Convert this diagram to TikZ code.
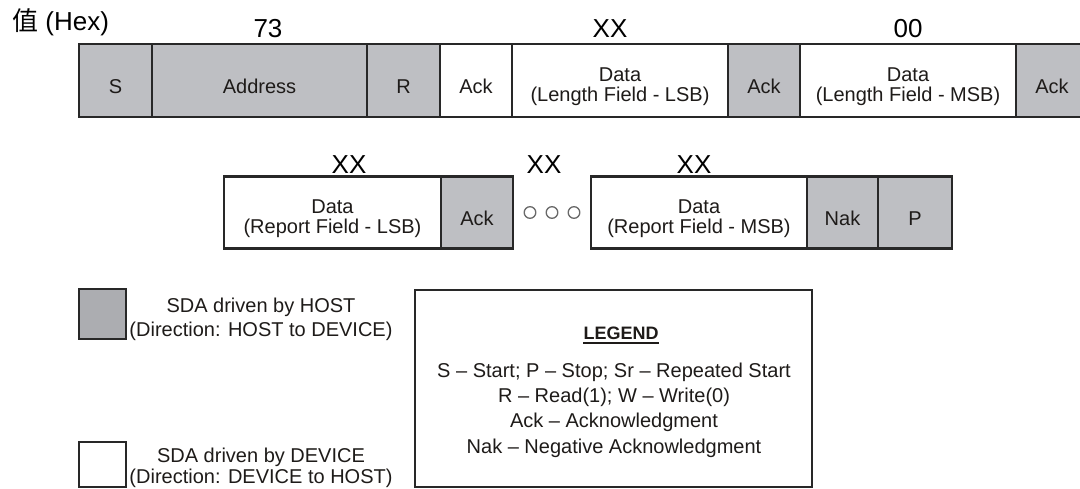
\documentclass[tikz,border=0pt]{standalone}
\usepackage{fontspec}
\setmainfont{Liberation Sans}
\newfontfamily\cjk{Noto Sans CJK SC}
\usetikzlibrary{positioning}

\definecolor{hostgray}{RGB}{190,191,195}
\definecolor{keygray}{RGB}{172,173,177}
\definecolor{edge}{RGB}{40,40,40}
\definecolor{ink}{RGB}{30,27,25}
\definecolor{ringgray}{RGB}{105,105,105}

\begin{document}
\begin{tikzpicture}[
    x=1pt, y=-1pt,
    node distance=0pt,
    cell/.style={draw=edge, line width=2.4pt, inner sep=0pt, outer sep=0pt},
    host/.style={cell, fill=hostgray, minimum height=73pt},
    dev/.style={cell, fill=white, minimum height=73pt},
    txt/.style={font=\fontsize{20}{20.5}\selectfont, text=ink, align=center, yshift=-6pt},
    note/.style={font=\fontsize{20}{24}\selectfont, text=ink, align=center},
    hexval/.style={font=\fontsize{26}{26}\selectfont, anchor=base, inner sep=0pt},
    dotring/.style={draw=ringgray, line width=1.3pt}
]
\useasboundingbox (0,0) rectangle (1080,489);

% first frame row
\node[host, minimum width=73pt, anchor=north west, label={[txt]center:S}] (s) at (79,44) {};
\node[host, minimum width=215pt, right=of s, label={[txt]center:Address}] (addr) {};
\node[host, minimum width=73pt, right=of addr, label={[txt]center:R}] (rd) {};
\node[dev, minimum width=72pt, right=of rd, label={[txt]center:Ack}] (ack1) {};
\node[dev, minimum width=216pt, right=of ack1, label={[txt]center:{Data\\(Length Field - LSB)}}] (lenlsb) {};
\node[host, minimum width=72pt, right=of lenlsb, label={[txt]center:Ack}] (ack2) {};
\node[dev, minimum width=216pt, right=of ack2, label={[txt]center:{Data\\(Length Field - MSB)}}] (lenmsb) {};
\node[host, minimum width=72pt, right=of lenmsb, label={[txt]center:Ack}] (ack3) {};

% second frame row
\node[dev, minimum width=217pt, minimum height=72pt, anchor=north west, label={[txt]center:{Data\\(Report Field - LSB)}}] (replsb) at (224,176.5) {};
\node[host, minimum width=72pt, minimum height=72pt, right=of replsb, label={[txt]center:Ack}] (ack4) {};
\node[dev, minimum width=216pt, minimum height=72pt, anchor=north west, label={[txt]center:{Data\\(Report Field - MSB)}}] (repmsb) at (591,176.5) {};
\node[host, minimum width=71pt, minimum height=72pt, right=of repmsb, label={[txt]center:Nak}] (nak) {};
\node[host, minimum width=74pt, minimum height=72pt, right=of nak, label={[txt]center:P}] (stop) {};
\foreach \cx in {530,552,574}
    \draw[dotring] (\cx,212.5) circle[radius=5.8pt];

% values
\node[hexval, anchor=base west] (hexhdr) at (12,31) {{\cjk 值} (Hex)};
\node[hexval] (v73) at (268,38) {73};
\node[hexval] (vlenlsb) at (610,38) {XX};
\node[hexval] (vlenmsb) at (908,38) {00};
\node[hexval] (vreplsb) at (349,174) {XX};
\node[hexval] (vrepmid) at (544,174) {XX};
\node[hexval] (vrepmsb) at (694,174) {XX};

% key
\node[cell, fill=keygray, minimum width=47pt, minimum height=50pt, anchor=north west] (hostkey) at (79,289) {};
\node[cell, fill=white, minimum width=47pt, minimum height=45pt, anchor=north west] (devkey) at (79,442) {};
\node[note] (hostnote) at (261,319) {SDA driven by HOST\\(Direction: HOST to DEVICE)};
\node[note, font=\fontsize{20}{21}\selectfont] (devnote) at (261,467.5) {SDA driven by DEVICE\\(Direction: DEVICE to HOST)};

% legend
\node[cell, minimum width=397pt, minimum height=197pt, anchor=north west] (legend) at (415,290) {};
\node[font=\fontsize{18}{18}\selectfont\bfseries, text=ink, anchor=base, inner sep=0pt] (legtitle) at (621,340) {LEGEND};
\draw[ink, line width=1.6pt] ([yshift=-3pt]legtitle.base west) -- ([yshift=-3pt]legtitle.base east);
\node[note, font=\fontsize{20}{25.3}\selectfont] (legtext) at (614,410) {S – Start; P – Stop; Sr – Repeated Start\\R – Read(1); W – Write(0)\\Ack – Acknowledgment\\Nak – Negative Acknowledgment};
\end{tikzpicture}
\end{document}
